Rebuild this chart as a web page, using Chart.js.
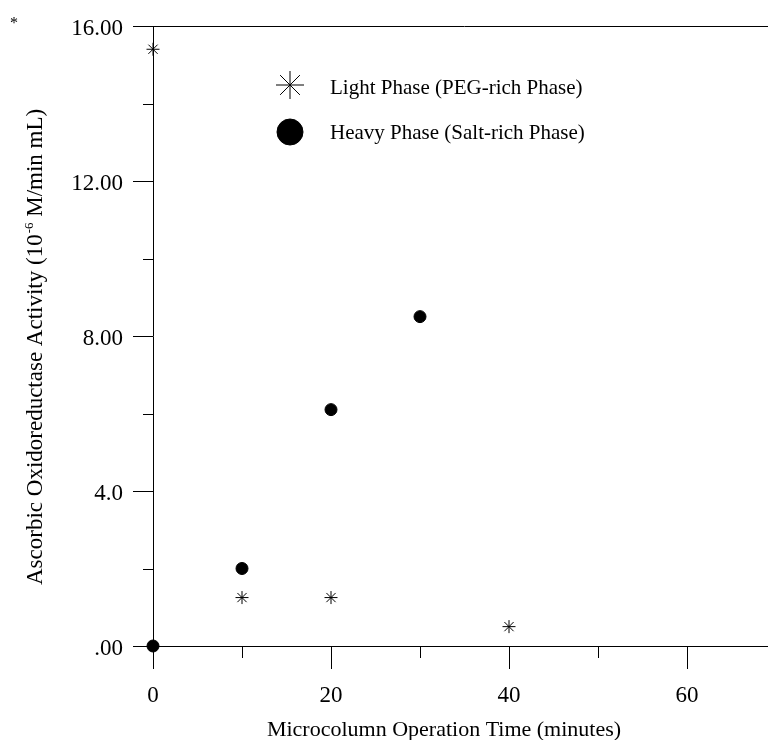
<!DOCTYPE html>
<html>
<head>
<meta charset="utf-8">
<script src="https://cdn.jsdelivr.net/npm/chart.js@4/dist/chart.umd.min.js"></script>
<style>
  html, body { margin: 0; padding: 0; background: #fff; overflow: hidden; }
  #wrap { width: 776px; height: 740px; }
</style>
</head>
<body>
<div id="wrap"><canvas id="chart" width="776" height="740"></canvas></div>
<script>
// values
const lightX = [0, 10, 20, 40];
const lightY = [15.4, 1.25, 1.25, 0.5];
const heavyX = [0, 10, 20, 30];
const heavyY = [0, 2.0, 6.1, 8.5];

const xMajor = [0, 20, 40, 60];
const xMinor = [10, 30, 50];
const yMajor = [0, 4, 8, 12, 16];
const yMinor = [2, 6, 10, 14];
const yLabels = ['.00', '4.0', '8.00', '12.00', '16.00'];

const lightName = 'Light Phase (PEG-rich Phase)';
const heavyName = 'Heavy Phase (Salt-rich Phase)';
const xTitle = 'Microcolumn Operation Time (minutes)';

const serif = 'Liberation Serif';

// tick marks, top frame line, titles and the inset legend
const frame = {
  id: 'frame',
  beforeDatasetsDraw(chart) {
    const { ctx, chartArea: a, scales: { x, y } } = chart;
    const px = v => Math.round(v) + 0.5;
    ctx.save();
    ctx.strokeStyle = '#000';
    ctx.lineWidth = 1;
    ctx.beginPath();
    ctx.moveTo(a.left, px(a.top));
    ctx.lineTo(a.right, px(a.top));
    xMajor.forEach(v => { const p = px(x.getPixelForValue(v)); ctx.moveTo(p, a.bottom); ctx.lineTo(p, a.bottom + 23); });
    xMinor.forEach(v => { const p = px(x.getPixelForValue(v)); ctx.moveTo(p, a.bottom); ctx.lineTo(p, a.bottom + 12); });
    yMajor.forEach(v => { const p = px(y.getPixelForValue(v)); ctx.moveTo(a.left, p); ctx.lineTo(a.left - 20, p); });
    yMinor.forEach(v => { const p = px(y.getPixelForValue(v)); ctx.moveTo(a.left, p); ctx.lineTo(a.left - 10, p); });
    ctx.stroke();
    ctx.restore();
  },
  afterDraw(chart) {
    const { ctx } = chart;
    ctx.save();
    ctx.fillStyle = '#000';

    // x title
    ctx.font = '22px "' + serif + '"';
    ctx.textAlign = 'center';
    ctx.textBaseline = 'alphabetic';
    ctx.fillText(xTitle, 444, 736);

    // y title with superscript
    ctx.translate(42, 585);
    ctx.rotate(-Math.PI / 2);
    ctx.textAlign = 'left';
    const partA = 'Ascorbic Oxidoreductase Activity (10';
    const sup = '-6';
    const partB = ' M/min mL)';
    ctx.font = '23px "' + serif + '"';
    ctx.fillText(partA, 0, 0);
    let w = ctx.measureText(partA).width;
    ctx.font = '13px "' + serif + '"';
    ctx.fillText(sup, w + 1, -9);
    w += ctx.measureText(sup).width + 1;
    ctx.font = '23px "' + serif + '"';
    ctx.fillText(partB, w, 0);
    ctx.setTransform(1, 0, 0, 1, 0, 0);

    // corner asterisk
    ctx.font = '16px "' + serif + '"';
    ctx.textAlign = 'center';
    ctx.fillText('*', 14, 28);

    // legend
    Chart.helpers.drawPoint(ctx, { pointStyle: 'star', radius: 14, borderWidth: 1 }, 290, 85);
    ctx.fillStyle = '#000';
    ctx.strokeStyle = '#000';
    Chart.helpers.drawPoint(ctx, { pointStyle: 'circle', radius: 13, borderWidth: 1 }, 290, 132);
    ctx.font = '21px "' + serif + '"';
    ctx.textAlign = 'left';
    ctx.fillText(lightName, 330, 94);
    ctx.fillText(heavyName, 330, 139);
    ctx.restore();
  }
};

new Chart(document.getElementById('chart'), {
  type: 'scatter',
  data: {
    datasets: [{
      label: lightName,
      data: lightX.map((v, i) => ({ x: v, y: lightY[i] })),
      pointStyle: 'star',
      pointRadius: 6.5,
      borderColor: '#000',
      backgroundColor: '#000',
      borderWidth: 1,
      clip: false
    }, {
      label: heavyName,
      data: heavyX.map((v, i) => ({ x: v, y: heavyY[i] })),
      pointStyle: 'circle',
      pointRadius: 6,
      borderColor: '#000',
      backgroundColor: '#000',
      borderWidth: 1,
      clip: false
    }]
  },
  options: {
    responsive: false,
    animation: false,
    events: [],
    layout: { autoPadding: false, padding: { top: 26, right: 0, left: 0, bottom: 0 } },
    plugins: { legend: { display: false }, tooltip: { enabled: false } },
    scales: {
      x: {
        type: 'linear',
        min: 0,
        max: 70,
        afterBuildTicks: s => { s.ticks = xMajor.map(v => ({ value: v })); },
        afterFit: s => { s.height = 94; s.paddingLeft = 0; s.paddingRight = 0; },
        grid: { drawOnChartArea: false, drawTicks: false },
        border: { color: '#000', width: 1 },
        ticks: {
          color: '#000',
          padding: 36,
          maxRotation: 0,
          font: { family: serif, size: 23 }
        }
      },
      y: {
        min: 0,
        max: 16,
        afterBuildTicks: s => { s.ticks = yMajor.map(v => ({ value: v })); },
        afterFit: s => { s.width = 153; s.paddingTop = 0; s.paddingBottom = 0; },
        grid: { drawOnChartArea: false, drawTicks: false },
        border: { color: '#000', width: 1 },
        ticks: {
          color: '#000',
          padding: 30,
          labelOffset: 3,
          font: { family: serif, size: 23 },
          callback: v => yLabels[yMajor.indexOf(v)]
        }
      }
    }
  },
  plugins: [frame]
});
</script>
</body>
</html>
